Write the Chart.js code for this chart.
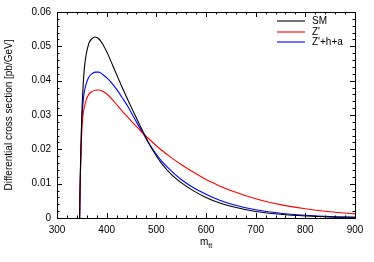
<!DOCTYPE html>
<html>
<head>
<meta charset="utf-8">
<script src="https://cdn.jsdelivr.net/npm/chart.js@4/dist/chart.umd.min.js"></script>
<style>
  html, body { margin: 0; padding: 0; background: #fff; }
  #wrap { width: 374px; height: 262px; }
</style>
</head>
<body>
<div id="wrap"><canvas id="c" width="374" height="262"></canvas></div>
<script>
// m_tt values (GeV)
const mtt = [345.6, 346.3, 347.7, 349.5, 352, 355, 359, 364, 370, 377, 384, 392, 402, 412, 422, 432, 443, 453, 463, 473, 483, 495, 510, 530, 550, 575, 600, 625, 650, 700, 750, 800, 850, 900];
// Differential cross sections [pb/GeV]
const smValues = [0, 0.008, 0.018, 0.028, 0.037, 0.0435, 0.0478, 0.0508, 0.0522, 0.0527, 0.0522, 0.0507, 0.0478, 0.0445, 0.0411, 0.0378, 0.0343, 0.0312, 0.0282, 0.0252, 0.0223, 0.0192, 0.0160, 0.0127, 0.0103, 0.0079, 0.0060, 0.0045, 0.0034, 0.0019, 0.0011, 0.0006, 0.0003, 0.0002];
const zpValues = [0, 0.007, 0.016, 0.024, 0.0295, 0.0322, 0.0345, 0.0360, 0.0368, 0.0372, 0.0373, 0.0369, 0.0359, 0.0344, 0.0327, 0.0310, 0.0293, 0.0277, 0.0262, 0.0247, 0.0233, 0.0217, 0.0198, 0.0176, 0.0156, 0.0133, 0.0112, 0.0095, 0.0080, 0.0056, 0.0039, 0.0027, 0.0018, 0.0012];
const zphaValues = [0, 0.0072, 0.0169, 0.0262, 0.033, 0.0368, 0.0392, 0.0410, 0.0420, 0.0425, 0.0425, 0.0418, 0.0406, 0.0390, 0.0371, 0.0349, 0.0324, 0.0298, 0.0272, 0.0247, 0.0222, 0.0196, 0.0167, 0.0137, 0.0112, 0.0088, 0.0069, 0.0053, 0.0041, 0.0024, 0.0014, 0.0008, 0.0004, 0.0002];
const seriesLabels = ["SM", "Z'", "Z'+h+a"];
const seriesColors = ['#000000', '#ff0000', '#0000ff'];
const xTicks = [300, 400, 500, 600, 700, 800, 900];
const yTicks = [0, 0.01, 0.02, 0.03, 0.04, 0.05, 0.06];
const yTitle = "Differential cross section [pb/GeV]";
const xTitleMain = "m";
const xTitleSub = "tt";

const FONT = "'Liberation Sans', Arial, sans-serif";
const pts = (vals) => mtt.map((x, i) => ({ x: x, y: vals[i] }));

const framePlugin = {
  id: 'frame',
  afterDraw(chart) {
    const ctx = chart.ctx;
    const a = chart.chartArea;
    const xs = chart.scales.x, ys = chart.scales.y;
    ctx.save();
    ctx.strokeStyle = '#000';
    ctx.lineWidth = 1;
    ctx.strokeRect(Math.round(a.left) + 0.5, Math.round(a.top) + 0.5, Math.round(a.right - a.left), Math.round(a.bottom - a.top));
    ctx.beginPath();
    for (let v = xs.min; v <= xs.max + 1e-9; v += 20) {
      const p = Math.round(xs.getPixelForValue(v)) + 0.5;
      const major = Math.abs((v - 300) % 100) < 1e-6;
      const len = major ? 5 : 2.5;
      ctx.moveTo(p, a.bottom); ctx.lineTo(p, a.bottom - len);
      ctx.moveTo(p, a.top); ctx.lineTo(p, a.top + len);
    }
    for (let k = 0; k <= 30; k++) {
      const v = k * 0.002;
      const p = Math.round(ys.getPixelForValue(v)) + 0.5;
      const major = k % 5 === 0;
      const len = major ? 5 : 2.5;
      ctx.moveTo(a.left, p); ctx.lineTo(a.left + len, p);
      ctx.moveTo(a.right, p); ctx.lineTo(a.right - len, p);
    }
    ctx.stroke();

    // x title with subscript
    ctx.fillStyle = '#000';
    ctx.textBaseline = 'alphabetic';
    ctx.font = '10px ' + FONT;
    const mw = ctx.measureText(xTitleMain).width;
    ctx.font = '7px ' + FONT;
    const sw = ctx.measureText(xTitleSub).width;
    const cx = (a.left + a.right) / 2;
    const x0 = cx - (mw + sw) / 2;
    ctx.font = '10px ' + FONT;
    ctx.textAlign = 'left';
    ctx.fillText(xTitleMain, x0, 245);
    ctx.font = '7px ' + FONT;
    ctx.fillText(xTitleSub, x0 + mw, 248);

    // legend
    const lx0 = 277, lx1 = 305, tx = 312;
    const rows = [21, 32, 42];
    seriesLabels.forEach((lab, i) => {
      ctx.beginPath();
      ctx.strokeStyle = seriesColors[i];
      ctx.lineWidth = 1.1;
      ctx.moveTo(lx0, rows[i]); ctx.lineTo(lx1, rows[i]);
      ctx.stroke();
      ctx.fillStyle = '#000';
      ctx.font = '10px ' + FONT;
      ctx.textBaseline = 'middle';
      ctx.fillText(lab, tx, rows[i] + 0.5);
    });
    ctx.restore();
  }
};

new Chart(document.getElementById('c'), {
  type: 'line',
  data: {
    datasets: [
      { label: seriesLabels[0], data: pts(smValues), borderColor: seriesColors[0], borderWidth: 1.1, pointRadius: 0, cubicInterpolationMode: 'monotone', fill: false },
      { label: seriesLabels[1], data: pts(zpValues), borderColor: seriesColors[1], borderWidth: 1.1, pointRadius: 0, cubicInterpolationMode: 'monotone', fill: false },
      { label: seriesLabels[2], data: pts(zphaValues), borderColor: seriesColors[2], borderWidth: 1.1, pointRadius: 0, cubicInterpolationMode: 'monotone', fill: false }
    ]
  },
  options: {
    responsive: false,
    animation: false,
    devicePixelRatio: 1,
    layout: { padding: { left: 0, right: 19, top: 12, bottom: 0 } },
    plugins: { legend: { display: false }, tooltip: { enabled: false } },
    scales: {
      x: {
        type: 'linear', min: 300, max: 900,
        afterBuildTicks: (s) => { s.ticks = xTicks.map(v => ({ value: v })); },
        afterFit: (s) => { s.height = 44; },
        grid: { display: false, drawTicks: false },
        border: { display: false },
        ticks: { color: '#000', font: { family: FONT, size: 10 }, padding: 6, maxRotation: 0, autoSkip: false, callback: (v) => String(v) }
      },
      y: {
        type: 'linear', min: 0, max: 0.06,
        afterBuildTicks: (s) => { s.ticks = yTicks.map(v => ({ value: v })); },
        afterFit: (s) => { s.width = 57; },
        grid: { display: false, drawTicks: false },
        border: { display: false },
        title: { display: true, text: yTitle, color: '#000', font: { family: FONT, size: 10 }, padding: { top: 3, bottom: 0 } },
        ticks: { color: '#000', font: { family: FONT, size: 10 }, padding: 6, autoSkip: false, callback: (v) => (v === 0 ? '0' : String(Math.round(v * 100) / 100)) }
      }
    }
  },
  plugins: [framePlugin]
});
</script>
</body>
</html>
